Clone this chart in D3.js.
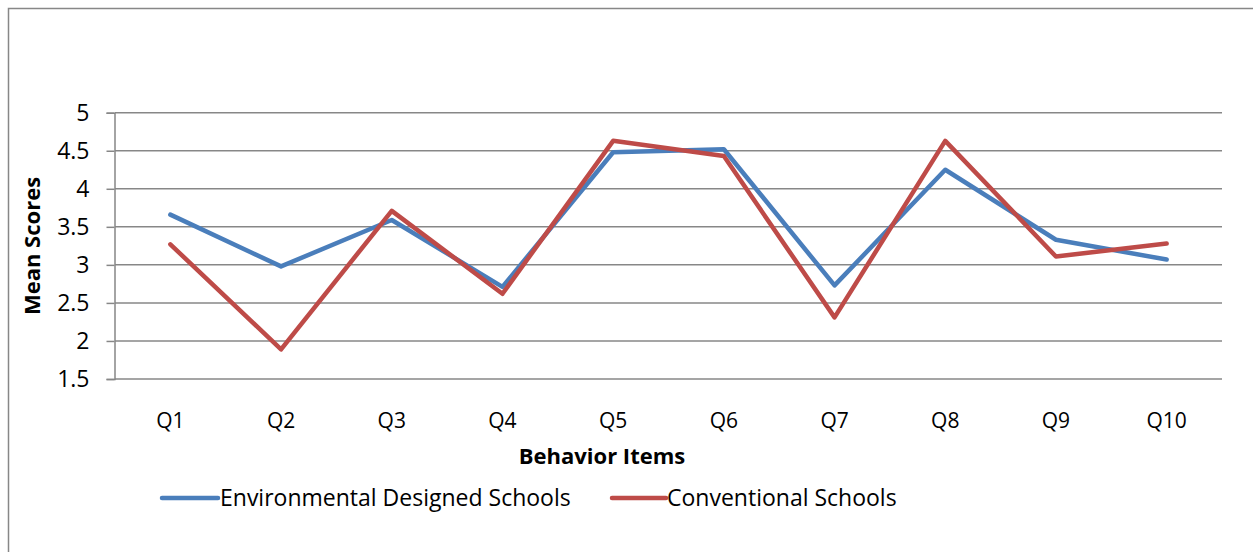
<!DOCTYPE html>
<html><head><meta charset="utf-8">
<script src="https://cdn.jsdelivr.net/npm/d3@7"></script>
<style>body{margin:0;background:#fff}svg{display:block}</style>
</head><body>
<script>
const categories = ["Q1","Q2","Q3","Q4","Q5","Q6","Q7","Q8","Q9","Q10"];
const environmental = [3.66,2.98,3.59,2.71,4.48,4.52,2.73,4.25,3.33,3.07];
const conventional = [3.27,1.89,3.71,2.62,4.63,4.43,2.31,4.63,3.11,3.28];
const yTicks = [1.5,2,2.5,3,3.5,4,4.5,5];
const seriesNames = ["Environmental Designed Schools","Conventional Schools"];
const colors = ["#4A7EBB","#BE4B48"];

const W=1253,H=552;
const svg=d3.select("body").append("svg").attr("width",W).attr("height",H);
const font="'Open Sans', sans-serif";
svg.append("rect").attr("x",8.5).attr("y",8.5).attr("width",W+10).attr("height",H+10)
  .attr("fill","none").attr("stroke","#878787").attr("stroke-width",1.5);

const L=115,R=1222,T=112.7,B=379;
const x=d3.scaleBand().domain(categories).range([L,R]);
const y=d3.scaleLinear().domain([1.5,5]).range([B,T]);

svg.append("g").selectAll("line").data(yTicks).join("line")
  .attr("x1",L).attr("x2",R).attr("y1",d=>y(d)).attr("y2",d=>y(d))
  .attr("stroke","#878787").attr("stroke-width",1.5);

const yAxis=svg.append("g").attr("transform",`translate(${L-0.5},0)`)
  .call(d3.axisLeft(y).tickValues(yTicks).tickSize(8).tickPadding(17).tickFormat(d=>String(d)));
yAxis.select(".domain").attr("stroke","#878787").attr("stroke-width",1.5);
yAxis.selectAll(".tick line").attr("stroke","#878787").attr("stroke-width",1.5);
yAxis.selectAll("text").attr("font-family",font).attr("font-size",23).attr("fill","#000");

const xAxis=svg.append("g").attr("transform",`translate(0,${B})`)
  .call(d3.axisBottom(x).tickSize(0).tickPadding(34));
xAxis.select(".domain").remove();
xAxis.selectAll("text").attr("font-family",font).attr("font-size",21).attr("fill","#000");

const line=d3.line().x((d,i)=>x(categories[i])+x.bandwidth()/2).y(d=>y(d));
[environmental,conventional].forEach((s,k)=>{
  svg.append("path").datum(s).attr("d",line).attr("fill","none")
    .attr("stroke",colors[k]).attr("stroke-width",4.5).attr("stroke-linejoin","round").attr("stroke-linecap","round");
});

svg.append("text").attr("transform","translate(40,246) rotate(-90)").attr("text-anchor","middle")
  .attr("font-family",font).attr("font-weight","bold").attr("font-size",22).text("Mean Scores");
svg.append("text").attr("x",602).attr("y",464).attr("text-anchor","middle")
  .attr("font-family",font).attr("font-weight","bold").attr("font-size",22).text("Behavior Items");

const leg=[{x1:162,x2:218,tx:220},{x1:612,x2:666,tx:667}];
leg.forEach((p,k)=>{
  svg.append("line").attr("x1",p.x1).attr("x2",p.x2).attr("y1",498).attr("y2",498)
    .attr("stroke",colors[k]).attr("stroke-width",4.5).attr("stroke-linecap","round");
  svg.append("text").attr("x",p.tx).attr("y",506).attr("font-family",font).attr("font-size",23)
    .text(seriesNames[k]);
});
</script>
</body></html>
